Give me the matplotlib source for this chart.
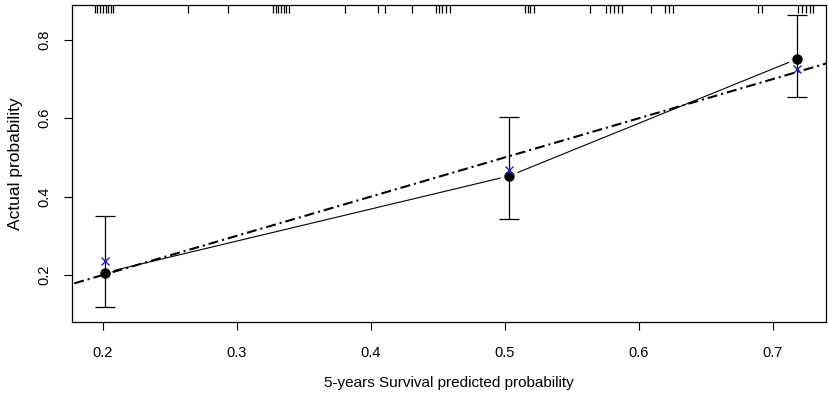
import numpy as np
import matplotlib
matplotlib.use("Agg")
import matplotlib.pyplot as plt

plt.rcParams['font.family'] = ['Liberation Sans', 'DejaVu Sans']

# -----------------------------
# Data
# -----------------------------

pred_x = [0.2015, 0.5032, 0.7177]          # mean predicted probability per group
observed = [0.206, 0.4527, 0.7507]         # black dots (observed)
corrected = [0.236, 0.469, 0.725]          # blue crosses (bias corrected)
ci_low = [0.118, 0.343, 0.654]
ci_high = [0.351, 0.6026, 0.864]

# predicted values shown as rug on the top axis
rug = [0.194, 0.196, 0.198, 0.200, 0.202, 0.204, 0.206, 0.2075,
       0.2634, 0.2933,
       0.327, 0.329, 0.331, 0.333, 0.335, 0.337, 0.339,
       0.3806, 0.4052, 0.4104, 0.4306,
       0.4485, 0.4507, 0.453, 0.456, 0.459,
       0.515, 0.517, 0.519, 0.522,
       0.5634,
       0.5754, 0.5784, 0.5813, 0.5843, 0.5873,
       0.609,
       0.6194, 0.6224, 0.6254,
       0.6888, 0.6918,
       0.7187, 0.7216, 0.7246, 0.7276, 0.7299]

x_ticks = [0.2, 0.3, 0.4, 0.5, 0.6, 0.7]
y_ticks = [0.2, 0.4, 0.6, 0.8]

# -----------------------------
# Figure
# -----------------------------

fig = plt.figure(figsize=(8.29, 4.12), dpi=100)
ax = fig.add_axes([72 / 829, 1 - 322 / 412, 754 / 829, 317 / 412])

ax.set_xlim(0.177, 0.7396)
ax.set_ylim(0.080, 0.889)

# ideal line
ideal = np.array([0.15, 0.76])
ax.plot(ideal, ideal, color="black", lw=1.5, dashes=(4.8, 1.9, 1, 1.9), zorder=4)

# observed line (type "b": gaps around the points)
ax.plot(pred_x, observed, color="black", lw=0.8, zorder=1)
ax.plot(pred_x, observed, 'o', ms=13, color="white", mec="none", zorder=2)

# error bars
ax.errorbar(pred_x, observed, yerr=[np.array(observed) - np.array(ci_low),
                                    np.array(ci_high) - np.array(observed)],
            fmt="none", ecolor="black", elinewidth=0.9, capsize=7, capthick=0.9, zorder=5)

ax.plot(pred_x, observed, 'o', ms=6.5, color="black", zorder=6)
ax.plot(pred_x, corrected, 'x', ms=6, mew=1.0, color="#2020c0", zorder=7)

# rug on top
ax.vlines(rug, 1 - 8 / 317, 1, transform=ax.get_xaxis_transform(),
          color="black", lw=0.9, zorder=3)

ax.set_xticks(x_ticks)
ax.set_xticklabels([f"{t:.1f}" for t in x_ticks])
ax.set_yticks(y_ticks)
ax.set_yticklabels([f"{t:.1f}" for t in y_ticks], rotation=90, va="center")

ax.tick_params(direction="out", length=6, width=0.8, labelsize=10.5, color="black")
ax.tick_params(axis="x", pad=11)
ax.tick_params(axis="y", pad=9)

for s in ax.spines.values():
    s.set_linewidth(0.9)

ax.set_xlabel("5-years Survival predicted probability", fontsize=11, labelpad=12)
ax.set_ylabel("Actual probability", fontsize=12.5, labelpad=10)

fig.savefig("out.png", dpi=100)
